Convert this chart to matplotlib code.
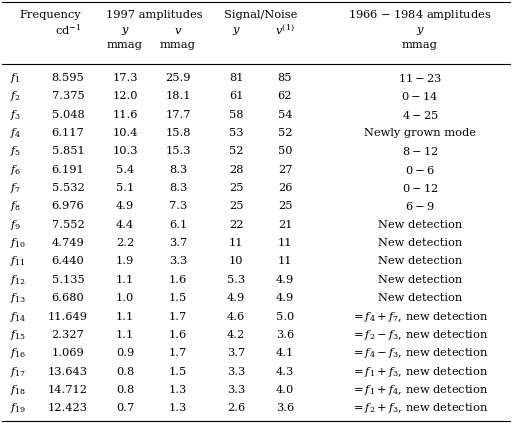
import matplotlib.pyplot as plt

plt.rcParams['mathtext.fontset'] = 'custom'
plt.rcParams['mathtext.rm'] = 'DejaVu Serif'
plt.rcParams['mathtext.it'] = 'DejaVu Serif:italic'
plt.rcParams['mathtext.bf'] = 'DejaVu Serif:bold'
plt.rcParams['font.family'] = 'DejaVu Serif'

freq = ['8.595', '7.375', '5.048', '6.117', '5.851', '6.191', '5.532', '6.976', '7.552', '4.749',
        '6.440', '5.135', '6.680', '11.649', '2.327', '1.069', '13.643', '14.712', '12.423']
amp_y = ['17.3', '12.0', '11.6', '10.4', '10.3', '5.4', '5.1', '4.9', '4.4', '2.2',
         '1.9', '1.1', '1.0', '1.1', '1.1', '0.9', '0.8', '0.8', '0.7']
amp_v = ['25.9', '18.1', '17.7', '15.8', '15.3', '8.3', '8.3', '7.3', '6.1', '3.7',
         '3.3', '1.6', '1.5', '1.7', '1.6', '1.7', '1.5', '1.3', '1.3']
sn_y = ['81', '61', '58', '53', '52', '28', '25', '25', '22', '11',
        '10', '5.3', '4.9', '4.6', '4.2', '3.7', '3.3', '3.3', '2.6']
sn_v = ['85', '62', '54', '52', '50', '27', '26', '25', '21', '11',
        '11', '4.9', '4.9', '5.0', '3.6', '4.1', '4.3', '4.0', '3.6']
old = [r'$11-23$', r'$0-14$', r'$4-25$', 'Newly grown mode', r'$8-12$', r'$0-6$', r'$0-12$',
       r'$6-9$', 'New detection', 'New detection', 'New detection', 'New detection',
       'New detection', r'$=f_4+f_7$, new detection', r'$=f_2-f_3$, new detection',
       r'$=f_4-f_3$, new detection', r'$=f_1+f_3$, new detection',
       r'$=f_1+f_4$, new detection', r'$=f_2+f_3$, new detection']

W, H = 512, 423
fig = plt.figure(figsize=(W / 100, H / 100), dpi=100)
ax = fig.add_axes([0, 0, 1, 1])
ax.set_xlim(0, W)
ax.set_ylim(H, 0)
ax.axis('off')

fs = 8.2
def t(x, y, s, ha='center'):
    ax.text(x, y, s, ha=ha, va='center', fontsize=fs)

ax.plot([2, 510], [2, 2], color='k', lw=0.8)
ax.plot([2, 510], [64, 64], color='k', lw=0.8)
ax.plot([2, 510], [421, 421], color='k', lw=0.8)

t(50, 15, 'Frequency'); t(154, 15, '1997 amplitudes'); t(261, 15, 'Signal/Noise')
t(420, 15, r'1966 $-$ 1984 amplitudes')
t(68, 30, r'cd$^{-1}$'); t(125, 31, r'$y$'); t(178, 31, r'$v$')
t(236, 31, r'$y$'); t(285, 30, r'$v^{(1)}$'); t(420, 31, r'$y$')
t(125, 45, 'mmag'); t(178, 45, 'mmag'); t(420, 45, 'mmag')

y0, dy = 78, 18.35
for i in range(len(freq)):
    y = y0 + i * dy
    t(10, y, r'$f_{%d}$' % (i + 1), ha='left')
    t(68, y, freq[i]); t(125, y, amp_y[i]); t(178, y, amp_v[i])
    t(236, y, sn_y[i]); t(285, y, sn_v[i]); t(420, y, old[i])

fig.savefig('out.png', dpi=100)
